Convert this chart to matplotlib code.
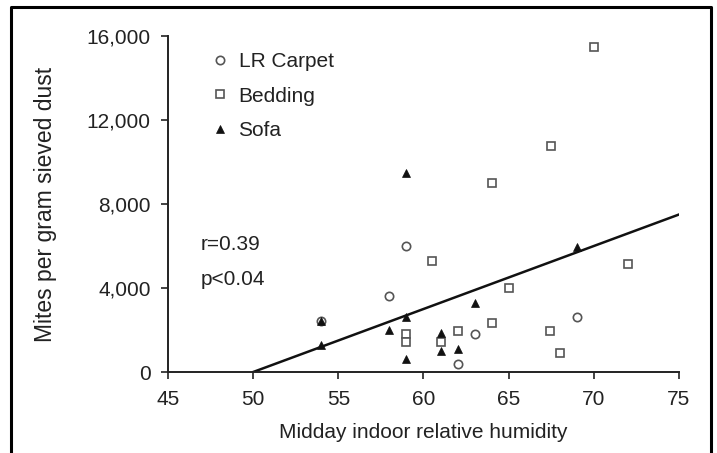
import matplotlib
matplotlib.use("Agg")
import matplotlib.pyplot as plt
from matplotlib.lines import Line2D

plt.rcParams["font.family"] = ["Liberation Sans", "DejaVu Sans"]

# Data
carpet_x = [59, 58, 69, 63, 62, 54]
carpet_y = [6000, 3600, 2630, 1800, 400, 2450]

bedding_x = [70, 67.5, 64, 60.5, 72, 65, 64, 62, 67.4, 68, 59, 59, 61]
bedding_y = [15500, 10750, 9000, 5300, 5150, 4000, 2320, 1950, 1950, 900, 1800, 1450, 1450]

sofa_x = [54, 54, 58, 59, 59, 59, 61, 61, 62, 63, 69]
sofa_y = [2450, 1300, 2000, 9500, 2600, 600, 1850, 1000, 1100, 3300, 5950]

fit_x = [50, 75]
fit_y = [0, 7500]

x_ticks = [45, 50, 55, 60, 65, 70, 75]
y_ticks = [0, 4000, 8000, 12000, 16000]
y_ticklabels = ["0", "4,000", "8,000", "12,000", "16,000"]

ink = "#222222"
edge = "#555555"
fs = 15


def generate_chart():
    fig = plt.figure(figsize=(7.17, 4.53), dpi=100)
    ax = fig.add_axes([168 / 717, 1 - 372 / 453, (679 - 168) / 717, (372 - 36) / 453])

    ax.plot(fit_x, fit_y, color="#111111", lw=1.8, zorder=2)

    ax.plot(carpet_x, carpet_y, "o", ms=6, mfc="white", mec=edge, mew=1.2,
            ls="none", label="LR Carpet", clip_on=False, zorder=3)
    ax.plot(bedding_x, bedding_y, "s", ms=6.3, mfc="white", mec=edge, mew=1.2,
            ls="none", label="Bedding", clip_on=False, zorder=3)
    ax.plot(sofa_x, sofa_y, "^", ms=6, mfc="#111111", mec="#111111", mew=0.5,
            ls="none", label="Sofa", clip_on=False, zorder=4)

    ax.set_xlim(45, 75)
    ax.set_ylim(0, 16000)
    ax.set_xticks(x_ticks)
    ax.set_yticks(y_ticks)
    ax.set_yticklabels(y_ticklabels)

    for side in ["top", "right"]:
        ax.spines[side].set_visible(False)
    for side in ["left", "bottom"]:
        ax.spines[side].set_color(ink)
        ax.spines[side].set_linewidth(1.4)

    ax.tick_params(direction="out", length=5, width=1.2, color=ink,
                   labelsize=fs, labelcolor=ink)
    ax.tick_params(axis="x", pad=8)
    ax.tick_params(axis="y", pad=7.5)

    ax.set_xlabel("Midday indoor relative humidity", fontsize=fs, color=ink, labelpad=10)
    ax.set_ylabel("Mites per gram sieved dust", fontsize=16.5, color=ink, labelpad=21)

    ax.text(0.063, 0.378, "r=0.39", transform=ax.transAxes, fontsize=fs,
            color=ink, va="center", ha="left")
    ax.text(0.063, 0.274, "p<0.04", transform=ax.transAxes, fontsize=fs,
            color=ink, va="center", ha="left")

    leg = ax.legend(loc="upper left", bbox_to_anchor=(0.085, 0.952), frameon=False,
                    fontsize=fs, handlelength=0.8, handletextpad=0.5,
                    labelspacing=0.75, borderaxespad=0, borderpad=0)
    for t in leg.get_texts():
        t.set_color(ink)

    # outer frame of the scanned figure
    fx0, fx1, fy1 = 11 / 717, 711 / 717, 1 - 7 / 453
    fig.add_artist(Line2D([fx0, fx0, fx1, fx1], [0, fy1, fy1, 0],
                          transform=fig.transFigure, color="black", lw=2.2))

    fig.savefig("out.png", dpi=100)
    plt.close(fig)


if __name__ == "__main__":
    generate_chart()
